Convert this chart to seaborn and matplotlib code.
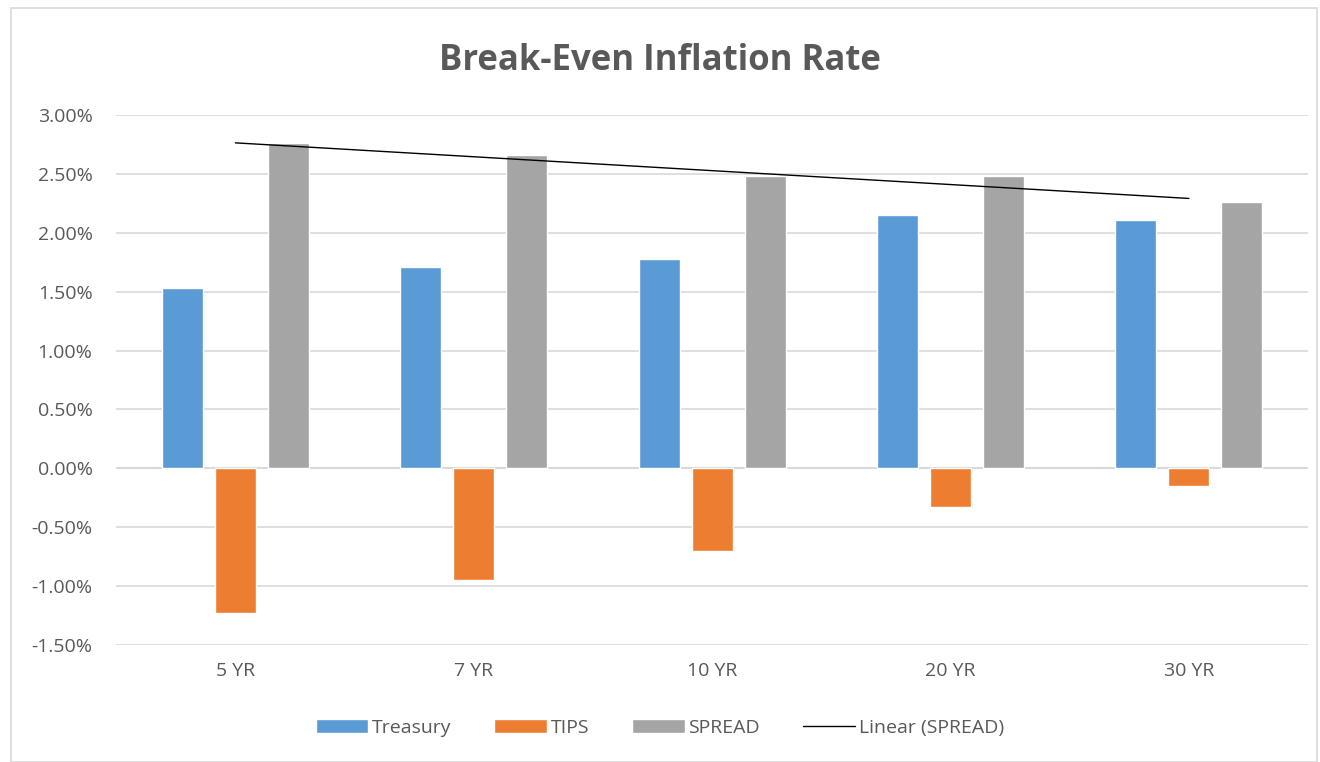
import numpy as np
import pandas as pd
import matplotlib.pyplot as plt
import matplotlib.patches as mpatches
from matplotlib.ticker import FuncFormatter
import seaborn as sns

# data (percent)
maturities = ['5 YR', '7 YR', '10 YR', '20 YR', '30 YR']
treasury = [1.53, 1.71, 1.78, 2.15, 2.11]
tips = [-1.23, -0.95, -0.70, -0.33, -0.15]
spread = [2.76, 2.66, 2.48, 2.48, 2.26]

series_names = ['Treasury', 'TIPS', 'SPREAD']
colors = ['#5B9BD5', '#ED7D31', '#A5A5A5']

df = pd.DataFrame({
    'maturity': maturities * 3,
    'series': np.repeat(series_names, len(maturities)),
    'value': treasury + tips + spread,
})

sns.set_theme(style='white')
plt.rcParams['font.family'] = ['Open Sans', 'DejaVu Sans']
text_col = '#595959'

fig = plt.figure(figsize=(13.2, 7.62), dpi=100)
ax = fig.add_axes([0.088, 0.1535, 0.903, 0.6955])

sns.barplot(data=df, x='maturity', y='value', hue='series',
            palette=colors, width=0.667, gap=0.225, saturation=1,
            ax=ax, legend=True)

# linear trendline of SPREAD
xs = np.arange(len(maturities))
coef = np.polyfit(xs, spread, 1)
ax.plot(xs, np.polyval(coef, xs), color='black', lw=1, label='Linear (SPREAD)')

ax.set_ylim(-1.5, 3.0)
ax.set_xlim(-0.5, len(maturities) - 0.5)
ax.set_yticks(np.arange(-1.5, 3.01, 0.5))
ax.yaxis.set_major_formatter(FuncFormatter(lambda v, p: f'{v:.2f}%'))
ax.grid(axis='y', color='#D9D9D9', lw=1.2)
ax.set_axisbelow(True)
for s in ax.spines.values():
    s.set_visible(False)
ax.axhline(0, color='#D9D9D9', lw=1.5, zorder=0.5)
ax.set_xlabel('')
ax.set_ylabel('')
ax.tick_params(axis='both', length=0, labelsize=14, colors=text_col)
ax.tick_params(axis='y', pad=17)
ax.tick_params(axis='x', pad=12)

fig.text(0.5, 0.92, 'Break-Even Inflation Rate', fontsize=25, fontweight='bold',
         color=text_col, ha='center', va='center')

handles, labels = ax.get_legend_handles_labels()
ax.get_legend().remove()
fig.legend(handles, labels, loc='center', bbox_to_anchor=(0.5, 0.045),
           ncol=4, frameon=False, fontsize=14, labelcolor=text_col,
           handlelength=2.7, handleheight=0.7, handletextpad=0.2,
           columnspacing=2.2)

# outer chart border
fig.patches.append(mpatches.Rectangle((0.008, 0.0), 0.99, 0.99, fill=False,
                                      edgecolor='#D9D9D9', lw=1.2,
                                      transform=fig.transFigure))

fig.savefig('out.png', dpi=100)
